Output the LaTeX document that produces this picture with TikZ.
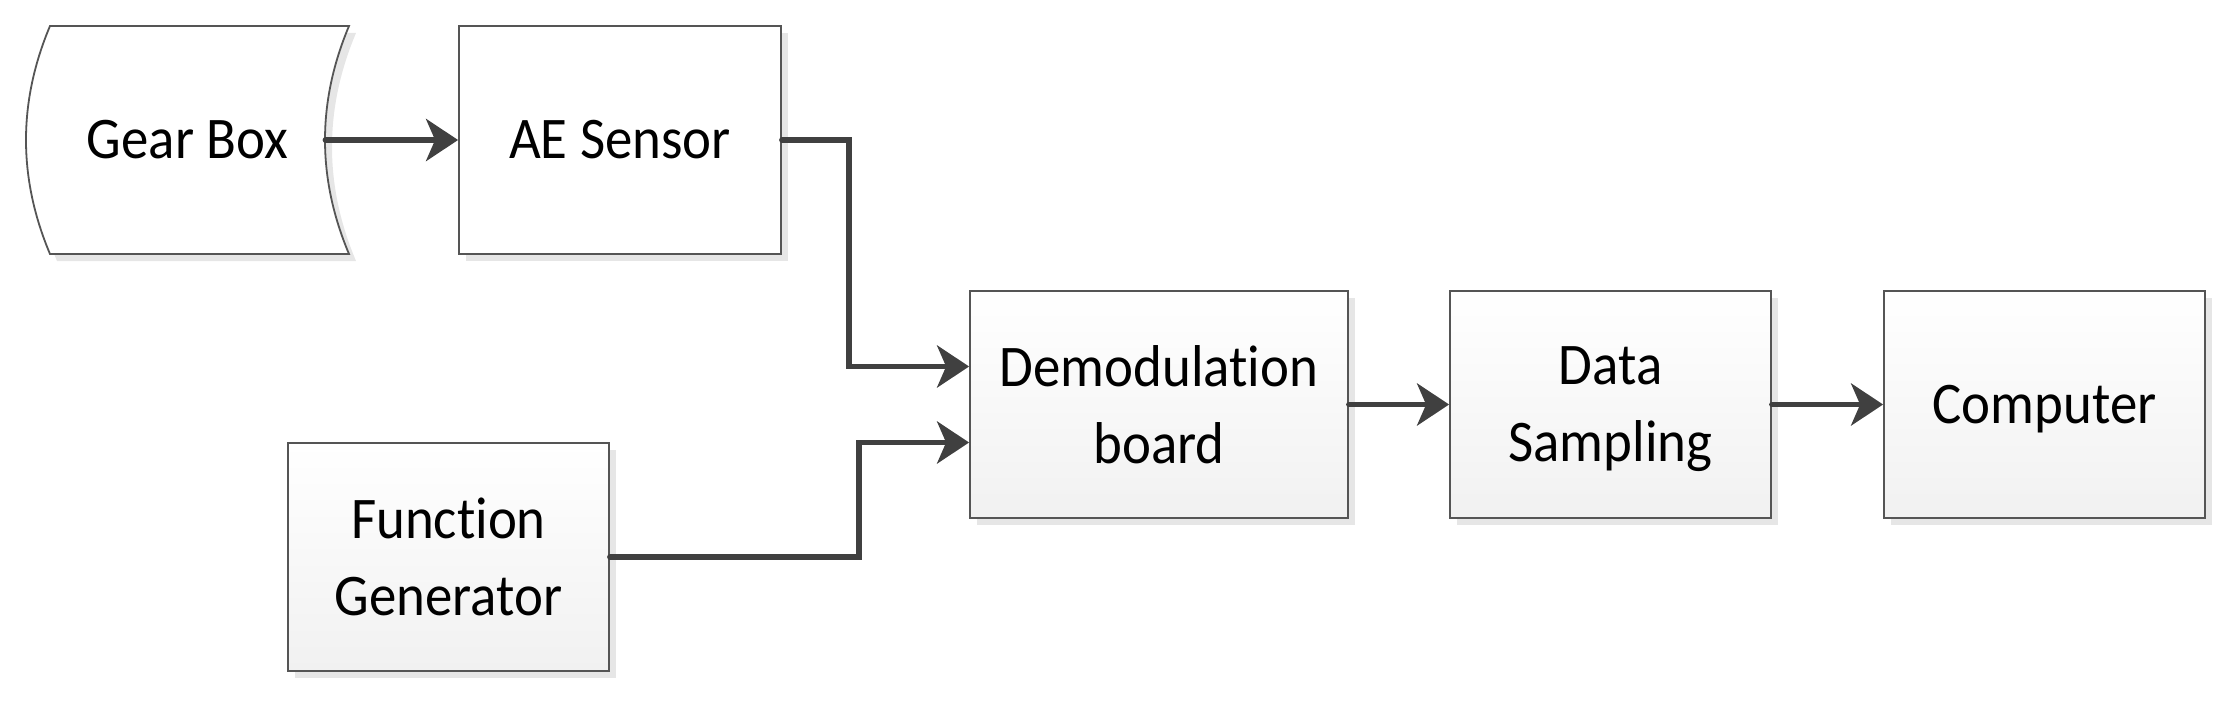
\documentclass[tikz,border=0pt]{standalone}
\usepackage{fontspec}
\setmainfont{Carlito}[FakeStretch=0.93, Ligatures={NoCommon}]
\usetikzlibrary{arrows.meta,shadows,calc}
\definecolor{edge}{HTML}{555555}
\definecolor{wire}{HTML}{404040}
\definecolor{shad}{HTML}{E6E6E6}
\definecolor{fillbot}{HTML}{F1F1F1}
\begin{document}
\begin{tikzpicture}[x=0.5pt,y=-0.5pt,
  lbl/.style={inner sep=0pt, align=center, font=\fontsize{29.5}{38.5}\selectfont},
  blk/.style={lbl, draw=edge, line width=0.9pt,
    drop shadow={shadow xshift=3.5pt, shadow yshift=-3.5pt, fill=shad, opacity=1}},
  grad/.style={top color=white, middle color=white, bottom color=fillbot, text depth=0pt},
  plain/.style={fill=white},
  wire/.style={draw=wire, line width=2.8pt, line cap=round,
    -{Stealth[length=16pt,width=21pt,inset=4.5pt]}}
]
\useasboundingbox (0,0) rectangle (2236,706);
% Gear box shape (shadow then outline)
\fill[shad, shift={(7,7)}] (50,26) -- (349,26) .. controls (317,102) and (317,178) .. (349,254)
  -- (50,254) .. controls (18,178) and (18,102) .. (50,26) -- cycle;
\draw[edge, line width=0.9pt, fill=white] (50,26) -- (349,26) .. controls (317,102) and (317,178) .. (349,254)
  -- (50,254) .. controls (18,178) and (18,102) .. (50,26) -- cycle;
\node[lbl, minimum width=137.5pt] (gear) at (187.5,140) {Gear Box};

\node[blk, plain, minimum width=161pt, minimum height=114pt] (ae) at (620,140) {AE Sensor};
\node[blk, grad, minimum width=189pt, minimum height=113.5pt] (demod) at (1159,404.5) {Demodulation\\board};
\node[blk, grad, minimum width=160.5pt, minimum height=113.5pt] (data) at (1610.5,404.5) {Data\\Sampling};
\node[blk, grad, minimum width=160.5pt, minimum height=113.5pt] (comp) at (2044.5,404.5) {Computer};
\node[blk, grad, minimum width=160.5pt, minimum height=114pt] (fg) at (448.5,557) {Function\\Generator};

\draw[wire] (gear.east) -- (ae.west);
\draw[wire] (ae.east) -| ($(demod.west)+(-120,-38)$) -- ($(demod.west)+(0,-38)$);
\draw[wire] (fg.east) -| ($(demod.west)+(-110,38)$) -- ($(demod.west)+(0,38)$);
\draw[wire] (demod.east) -- (data.west);
\draw[wire] (data.east) -- (comp.west);
\end{tikzpicture}
\end{document}
